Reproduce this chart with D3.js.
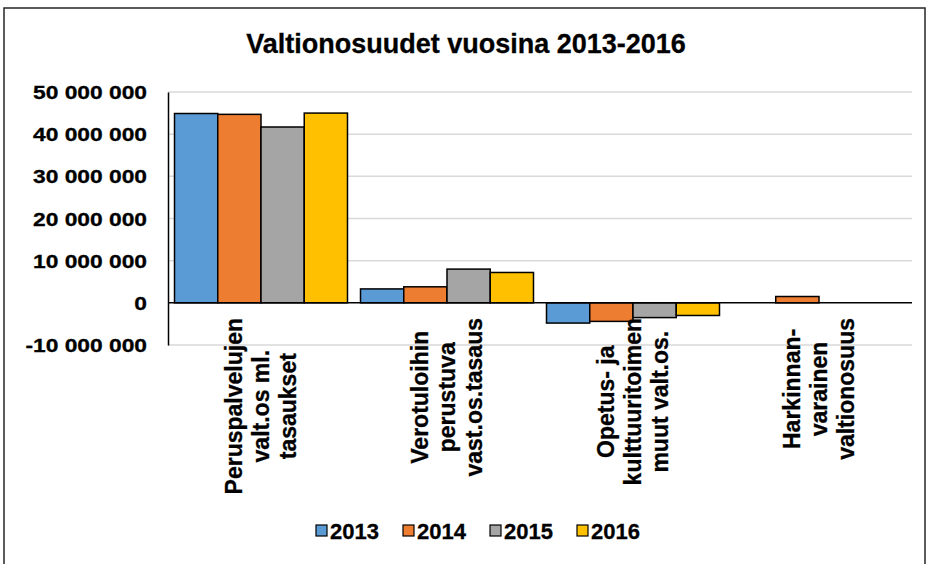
<!DOCTYPE html>
<html>
<head>
<meta charset="utf-8">
<script src="https://cdn.jsdelivr.net/npm/d3@7"></script>
<style>
  body { margin: 0; background: #fff; }
  text { font-family: "Liberation Sans", Arial, sans-serif; font-weight: bold; fill: #000; stroke: #000; stroke-width: 0.3px; }
</style>
</head>
<body>
<div id="plot"></div>
<script>
// data
var categories = [
    ["Peruspalvelujen", "valt.os ml.", "tasaukset"],
    ["Verotuloihin", "perustuva", "vast.os.tasaus"],
    ["Opetus- ja", "kulttuuritoimen", "muut valt.os."],
    ["Harkinnan-", "varainen", "valtionosuus"]
];
var years = ["2013", "2014", "2015", "2016"];
var v2013 = [44900000, 3300000, -4800000, 0];
var v2014 = [44700000, 3800000, -4400000, 1500000];
var v2015 = [41700000, 8000000, -3500000, 0];
var v2016 = [45000000, 7200000, -3000000, 0];
var yTicks = [-10000000, 0, 10000000, 20000000, 30000000, 40000000, 50000000];
var colors = ["#5b9bd5", "#ed7d31", "#a5a5a5", "#ffc000"];

var series = [v2013, v2014, v2015, v2016];

var W = 931, H = 564;
var margin = {t:92, r:19, b:219, l:168};

var svg = d3.select('#plot')
    .append('svg')
    .attr('width', W)
    .attr('height', H);

// outer frame
svg.append('rect')
    .attr('x', 4).attr('y', 8)
    .attr('width', 921).attr('height', 600)
    .style('fill', '#fff')
    .style('stroke', '#262626')
    .style('stroke-width', 1.5);

svg.append('text')
    .attr('x', 466).attr('y', 53)
    .attr('text-anchor', 'middle')
    .style('font-size', '27px')
    .text('Valtionosuudet vuosina 2013-2016');

var x0 = d3.scaleBand()
    .domain(d3.range(categories.length))
    .range([margin.l, W - margin.r]);

var gap = x0.bandwidth() * 0.035;
var x1 = d3.scaleBand()
    .domain(years)
    .range([gap, x0.bandwidth() - gap]);

var y = d3.scaleLinear()
    .domain([-10000000, 50000000])
    .range([H - margin.b, margin.t]);

var loc = d3.formatLocale({decimal: ",", thousands: " ", grouping: [3], currency: ["", ""], minus: "-"});
var fmt = loc.format(",");

// gridlines
svg.append('g')
    .selectAll('line')
    .data(yTicks.filter(function(d){ return d !== 0; }))
    .enter()
    .append('line')
    .attr('x1', margin.l).attr('x2', W - margin.r)
    .attr('y1', function(d){ return y(d); })
    .attr('y2', function(d){ return y(d); })
    .style('stroke', '#d9d9d9')
    .style('stroke-width', 1.5);

// y axis (tick labels are drawn a bit wide in the original)
var sx = 1.2;
var yAxis = d3.axisLeft(y).tickValues(yTicks).tickFormat(fmt).tickSize(0);
var gy = svg.append('g')
    .attr('transform', 'translate(' + margin.l + ',0)')
    .call(yAxis);
gy.select('.domain').style('stroke', '#000').style('stroke-width', 1.5);
gy.selectAll('text')
    .style('font-size', '19px')
    .attr('x', -21 / sx)
    .attr('dy', '0.35em')
    .attr('transform', 'scale(' + sx + ',1)');

// bars
var groups = svg.append('g')
    .selectAll('g')
    .data(categories)
    .enter()
    .append('g')
    .attr('transform', function(d, i){ return 'translate(' + x0(i) + ',0)'; });

groups.selectAll('rect')
    .data(function(d, i){ return years.map(function(yr, k){ return {yr: yr, k: k, v: series[k][i]}; }); })
    .enter()
    .filter(function(d){ return d.v !== 0; })
    .append('rect')
    .attr('x', function(d){ return x1(d.yr); })
    .attr('y', function(d){ return y(Math.max(0, d.v)); })
    .attr('width', x1.bandwidth())
    .attr('height', function(d){ return Math.abs(y(d.v) - y(0)); })
    .style('fill', function(d){ return colors[d.k]; })
    .style('stroke', '#000')
    .style('stroke-width', 1.5);

// zero line
svg.append('line')
    .attr('x1', margin.l).attr('x2', W - margin.r)
    .attr('y1', y(0)).attr('y2', y(0))
    .style('stroke', '#000')
    .style('stroke-width', 1.5);

// category labels, rotated, lines centred in block whose top is at 318
var lineH = 27;
categories.forEach(function(lines, i){
    var cx = x0(i) + x0.bandwidth() / 2;
    var g = svg.append('g');
    var texts = lines.map(function(s, j){
        return g.append('text')
            .style('font-size', '23px')
            .attr('text-anchor', 'middle')
            .attr('dy', '0.35em')
            .text(s);
    });
    var maxLen = d3.max(texts, function(t){ return t.node().getComputedTextLength(); });
    var cy = 318 + maxLen / 2;
    texts.forEach(function(t, j){
        var off = (j - (lines.length - 1) / 2) * lineH;
        t.attr('transform', 'translate(' + (cx + off) + ',' + cy + ') rotate(-90)');
    });
});

// legend
var leg = svg.append('g')
    .selectAll('g')
    .data(years)
    .enter()
    .append('g')
    .attr('transform', function(d, i){ return 'translate(' + (316 + i * 87) + ',531)'; });

leg.append('rect')
    .attr('x', 0).attr('y', -6)
    .attr('width', 11).attr('height', 11)
    .style('fill', function(d, i){ return colors[i]; })
    .style('stroke', '#000')
    .style('stroke-width', 1.2);

leg.append('text')
    .attr('x', 14).attr('dy', '0.35em')
    .style('font-size', '22px')
    .text(function(d){ return d; });
</script>
</body>
</html>
